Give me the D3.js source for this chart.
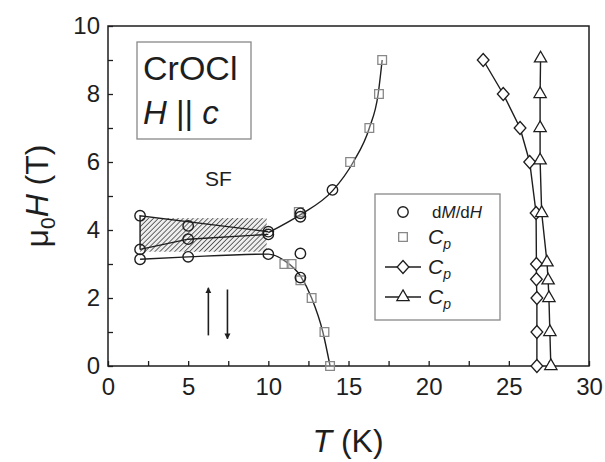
<!DOCTYPE html>
<html>
<head>
<meta charset="utf-8">
<script src="https://cdn.jsdelivr.net/npm/d3@7"></script>
<style>
  body { margin: 0; background: #fff; }
  svg { font-family: "Liberation Sans", Arial, sans-serif; }
</style>
</head>
<body>
<div id="chart"></div>
<script>
// dM/dH points (T, H)
const dmdhPoints = [
	[2, 4.42], [2, 3.43], [2, 3.14],
	[5, 4.12], [5, 3.73], [5, 3.21],
	[10, 3.95], [10, 3.87], [10, 3.29],
	[12, 4.49], [12, 4.39], [12, 3.31], [12, 2.6],
	[14, 5.18],
];
// Cp squares
const cpSquares = [
	[17.1, 9.0], [16.9, 8.0], [16.3, 7.0], [15.1, 6.0], [11.9, 4.53],
	[11.0, 3.0], [11.45, 3.0], [12.0, 2.52], [12.7, 2.0], [13.5, 1.0], [13.85, 0.0],
];
// Cp diamonds (connected)
const cpDiamonds = [
	[26.75, 0], [26.75, 1], [26.75, 2], [26.72, 2.55], [26.72, 3.0],
	[26.7, 4.5], [26.3, 6.0], [25.7, 7.0], [24.65, 8.0], [23.4, 9.0],
];
// Cp triangles (connected)
const cpTriangles = [
	[27.62, 0], [27.56, 1], [27.5, 2], [27.45, 2.52], [27.38, 3.05],
	[27.05, 4.5], [26.95, 6.05], [26.95, 7.0], [26.95, 8.0], [26.98, 9.05],
];
// guide curves
const upperCurve = [[10, 3.92], [12, 4.45], [14, 5.15], [15.3, 6.0], [16.3, 7.0], [16.85, 8.0], [17.1, 9.0]];
const lowerCurve = [[2, 3.14], [5, 3.21], [10, 3.29], [11, 3.1], [12, 2.65], [12.7, 2.0], [13.4, 1.0], [13.85, 0]];
const wedgeTop = [[2, 3.43], [2, 4.42], [10, 3.95]];
const wedgeBottom = [[2, 3.43], [5, 3.73], [10, 3.87]];
const sfBox = { t0: 2, t1: 9.9, h0: 3.36, h1: 4.35 };
// arrows [T, from H, to H]
const arrows = [[6.26, 0.9, 2.3], [7.45, 2.25, 0.8]];

const xTicks = d3.range(0, 30.1, 2.5);
const yTicks = d3.range(0, 10.1, 1);

const width = 605;
const height = 462;
const ink = "#1e1e1e";

const svg = d3.select("#chart").append("svg")
	.attr("width", width)
	.attr("height", height);

const defs = svg.append("defs");
const hatch = defs.append("pattern")
	.attr("id", "hatch")
	.attr("patternUnits", "userSpaceOnUse")
	.attr("width", 3.5)
	.attr("height", 3.5)
	.attr("patternTransform", "rotate(45)");
hatch.append("rect").attr("width", 3.5).attr("height", 3.5).attr("fill", "#eee");
hatch.append("line").attr("x1", 0).attr("y1", 0).attr("x2", 0).attr("y2", 3.5)
	.attr("stroke", "#444").attr("stroke-width", 1.6);

defs.append("marker")
	.attr("id", "arrow")
	.attr("viewBox", "0 0 10 10")
	.attr("refX", 9).attr("refY", 5)
	.attr("markerWidth", 6).attr("markerHeight", 8)
	.attr("markerUnits", "userSpaceOnUse")
	.attr("orient", "auto")
	.append("path").attr("d", "M0,0 L10,5 L0,10 Z").attr("fill", ink);

const x = d3.scaleLinear().domain([0, 30]).range([108, 589]);
const y = d3.scaleLinear().domain([0, 10]).range([366, 26]);

// axes (ticks point inward)
const xAxis = svg.append("g")
	.attr("transform", `translate(0 ${y(0)})`)
	.call(d3.axisBottom(x).tickValues(xTicks).tickSize(-5).tickPadding(12)
		.tickFormat((d) => (d % 5 === 0 ? d : "")));
const yAxis = svg.append("g")
	.attr("transform", `translate(${x(0)} 0)`)
	.call(d3.axisLeft(y).tickValues(yTicks).tickSize(-5).tickPadding(8)
		.tickFormat((d) => (d % 2 === 0 ? d : "")));
[xAxis, yAxis].forEach((a) => {
	a.select(".domain").remove();
	a.selectAll(".tick line").attr("stroke", ink).attr("stroke-width", 1.3);
	a.selectAll("text").attr("font-size", 24).attr("fill", ink)
		.attr("font-family", "Liberation Sans, Arial, sans-serif");
});

svg.append("rect")
	.attr("x", x(0)).attr("y", y(10))
	.attr("width", x(30) - x(0)).attr("height", y(0) - y(10))
	.attr("fill", "none").attr("stroke", ink).attr("stroke-width", 1.5);

// SF hatched region
svg.append("rect")
	.attr("x", x(sfBox.t0)).attr("y", y(sfBox.h1))
	.attr("width", x(sfBox.t1) - x(sfBox.t0))
	.attr("height", y(sfBox.h0) - y(sfBox.h1))
	.attr("fill", "url(#hatch)");

const line = d3.line().x((d) => x(d[0])).y((d) => y(d[1]));
const smooth = d3.line().x((d) => x(d[0])).y((d) => y(d[1])).curve(d3.curveMonotoneX);

const lines = svg.append("g").attr("fill", "none").attr("stroke", ink).attr("stroke-width", 1.4);
lines.append("path").attr("d", line(wedgeTop));
lines.append("path").attr("d", line(wedgeBottom));
lines.append("path").attr("d", smooth(upperCurve));
lines.append("path").attr("d", smooth(lowerCurve));
lines.append("path").attr("d", line(cpDiamonds));
lines.append("path").attr("d", line(cpTriangles));

// arrows
svg.append("g").selectAll("line")
	.data(arrows)
	.join("line")
	.attr("x1", (d) => x(d[0])).attr("x2", (d) => x(d[0]))
	.attr("y1", (d) => y(d[1])).attr("y2", (d) => y(d[2]))
	.attr("stroke", ink).attr("stroke-width", 1.6)
	.attr("marker-end", "url(#arrow)");

// markers
const sym = (type, size) => d3.symbol().type(type).size(size)();
const diamondPath = (s) => `M0,${-s}L${s * 0.9},0L0,${s}L${-s * 0.9},0Z`;

svg.append("g").selectAll("path")
	.data(cpSquares)
	.join("path")
	.attr("d", sym(d3.symbolSquare, 75))
	.attr("transform", (d) => `translate(${x(d[0])},${y(d[1])})`)
	.attr("fill", "#fff").attr("fill-opacity", 0.3)
	.attr("stroke", "#888").attr("stroke-width", 1.3);

svg.append("g").selectAll("circle")
	.data(dmdhPoints)
	.join("circle")
	.attr("cx", (d) => x(d[0])).attr("cy", (d) => y(d[1]))
	.attr("r", 5.2)
	.attr("fill", "none").attr("stroke", ink).attr("stroke-width", 1.4);

svg.append("g").selectAll("path")
	.data(cpDiamonds)
	.join("path")
	.attr("d", diamondPath(6.5))
	.attr("transform", (d) => `translate(${x(d[0])},${y(d[1])})`)
	.attr("fill", "#fff").attr("stroke", ink).attr("stroke-width", 1.3);

svg.append("g").selectAll("path")
	.data(cpTriangles)
	.join("path")
	.attr("d", sym(d3.symbolTriangle, 65))
	.attr("transform", (d) => `translate(${x(d[0])},${y(d[1])})`)
	.attr("fill", "#fff").attr("stroke", ink).attr("stroke-width", 1.3);

// legend
const legend = svg.append("g");
legend.append("rect")
	.attr("x", 375).attr("y", 194).attr("width", 125).attr("height", 126)
	.attr("fill", "#fff").attr("stroke", "#888").attr("stroke-width", 1.3);

const rows = [
	{ y: 212, kind: "circle", label: ["d", "M", "/d", "H"] },
	{ y: 237, kind: "square" },
	{ y: 267, kind: "diamond" },
	{ y: 297, kind: "triangle" },
];
rows.forEach((r) => {
	const g = legend.append("g").attr("transform", `translate(403 ${r.y})`);
	if (r.kind === "diamond" || r.kind === "triangle") {
		g.append("line").attr("x1", -18).attr("x2", 18).attr("stroke", ink).attr("stroke-width", 1.4);
	}
	if (r.kind === "circle") {
		g.append("circle").attr("r", 5.2).attr("fill", "none").attr("stroke", ink).attr("stroke-width", 1.4);
	} else if (r.kind === "square") {
		g.append("path").attr("d", sym(d3.symbolSquare, 75)).attr("fill", "none")
			.attr("stroke", "#888").attr("stroke-width", 1.3);
	} else if (r.kind === "diamond") {
		g.append("path").attr("d", diamondPath(6.5)).attr("fill", "#fff").attr("stroke", ink).attr("stroke-width", 1.3);
	} else {
		g.append("path").attr("d", sym(d3.symbolTriangle, 65)).attr("fill", "#fff").attr("stroke", ink).attr("stroke-width", 1.3);
	}
	if (r.label) {
		const t = g.append("text").attr("x", 29).attr("y", 6).attr("font-size", 17).attr("fill", ink);
		r.label.forEach((s, i) => t.append("tspan").attr("font-style", i % 2 ? "italic" : "normal").text(s));
	} else {
		const t = g.append("text").attr("x", 25).attr("y", 7).attr("font-size", 21).attr("fill", ink);
		t.append("tspan").attr("font-style", "italic").text("C");
		t.append("tspan").attr("font-style", "italic").attr("font-size", 14).attr("dy", 5).text("p");
	}
});

// title box
svg.append("rect")
	.attr("x", 137).attr("y", 42).attr("width", 114).attr("height", 97)
	.attr("fill", "#fff").attr("stroke", "#888").attr("stroke-width", 1.3);
svg.append("text").attr("x", 143).attr("y", 80).attr("font-size", 34).attr("fill", ink).text("CrOCl");
const hc = svg.append("text").attr("x", 143).attr("y", 124).attr("font-size", 33).attr("fill", ink);
hc.append("tspan").attr("font-style", "italic").text("H");
hc.append("tspan").text(" || ");
hc.append("tspan").attr("font-style", "italic").text("c");

svg.append("text").attr("x", 205).attr("y", 186).attr("font-size", 21).attr("fill", ink).text("SF");

// axis titles
const xt = svg.append("text").attr("x", 348).attr("y", 452).attr("text-anchor", "middle")
	.attr("font-size", 32).attr("fill", ink);
xt.append("tspan").attr("font-style", "italic").text("T");
xt.append("tspan").text(" (K)");

const yt = svg.append("text")
	.attr("transform", `translate(48 ${y(5)}) rotate(-90)`)
	.attr("text-anchor", "middle").attr("font-size", 32).attr("fill", ink);
yt.append("tspan").text("μ");
yt.append("tspan").attr("font-size", 21).attr("dy", 7).text("0");
yt.append("tspan").attr("font-style", "italic").attr("dy", -7).text("H");
yt.append("tspan").text(" (T)");
</script>
</body>
</html>
